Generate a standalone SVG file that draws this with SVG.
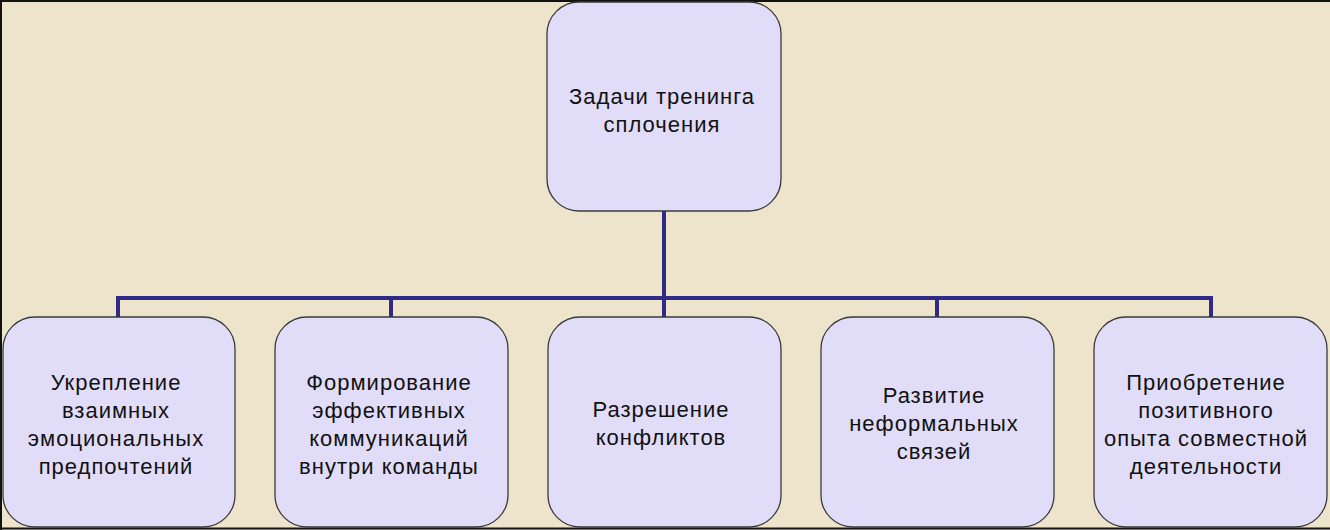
<svg xmlns="http://www.w3.org/2000/svg" width="1330" height="530" viewBox="0 0 1330 530">
<style>
.box{fill:#E1DCF8;stroke:#3a3a3a;stroke-width:1.3}
.t{font-family:"Liberation Sans",Arial,sans-serif;font-size:22px;letter-spacing:1px;fill:#111;text-anchor:middle}
.c{fill:none;stroke:#2F2A88;stroke-width:4}
</style>
<rect x="0" y="0" width="1330" height="530" fill="#EEE4CC"/>
<path d="M1,530 V1 H1330 M0,528.5 H1330" fill="none" stroke="#111" stroke-width="2"/>
<g id="connectors">
<path class="c" d="M664,211 V298 M118,317 V298 H1211 V317 M391,298 V317 M664,298 V317 M937,298 V317"/>
</g>
<g id="root">
<rect class="box" x="547" y="2" width="234" height="209" rx="32"/>
<text class="t" x="662" y="104">Задачи тренинга</text>
<text class="t" x="662" y="132">сплочения</text>
</g>
<g id="n1">
<rect class="box" x="3" y="317" width="232" height="210" rx="32"/>
<text class="t" x="116" y="390">Укрепление</text>
<text class="t" x="116" y="418">взаимных</text>
<text class="t" x="116" y="446">эмоциональных</text>
<text class="t" x="116" y="474">предпочтений</text>
</g>
<g id="n2">
<rect class="box" x="275" y="317" width="233" height="210" rx="32"/>
<text class="t" x="389" y="390">Формирование</text>
<text class="t" x="389" y="418">эффективных</text>
<text class="t" x="389" y="446">коммуникаций</text>
<text class="t" x="389" y="474">внутри команды</text>
</g>
<g id="n3">
<rect class="box" x="548" y="317" width="233" height="210" rx="32"/>
<text class="t" x="661" y="417">Разрешение</text>
<text class="t" x="661" y="445">конфликтов</text>
</g>
<g id="n4">
<rect class="box" x="821" y="317" width="233" height="210" rx="32"/>
<text class="t" x="934" y="403">Развитие</text>
<text class="t" x="934" y="431">неформальных</text>
<text class="t" x="934" y="459">связей</text>
</g>
<g id="n5">
<rect class="box" x="1094" y="317" width="233" height="210" rx="32"/>
<text class="t" x="1206" y="390">Приобретение</text>
<text class="t" x="1206" y="418">позитивного</text>
<text class="t" x="1206" y="446">опыта совместной</text>
<text class="t" x="1206" y="474">деятельности</text>
</g>
</svg>
